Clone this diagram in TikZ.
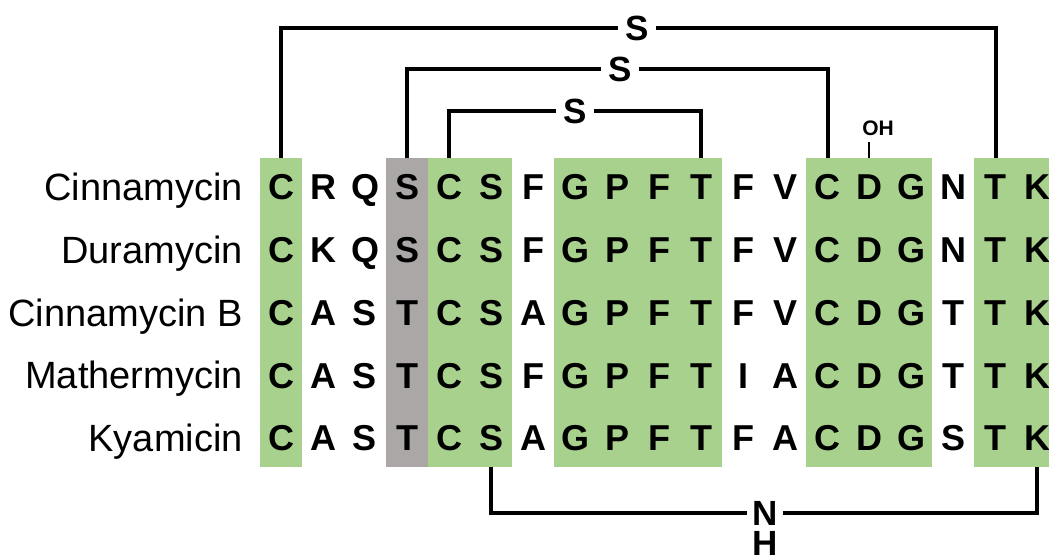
\documentclass[tikz,border=0pt]{standalone}
\usepackage{fontspec}
\setmainfont{Liberation Sans}
\definecolor{consgreen}{RGB}{168,209,141}
\definecolor{semigray}{RGB}{171,167,167}
\begin{document}
\begin{tikzpicture}[x=1pt,y=-1pt,
  residue/.style={anchor=base,inner sep=0pt,font=\fontsize{36}{36}\selectfont\bfseries},
  peptide/.style={anchor=base east,inner sep=0pt,font=\fontsize{38}{38}\selectfont},
  bridge/.style={fill=white,inner xsep=7pt,inner ysep=1pt,font=\fontsize{35}{35}\selectfont\bfseries},
  bond/.style={draw=black,line width=4.6pt,line join=miter},
  thinbond/.style={draw=black,line width=2.2pt},
  band/.style={fill=consgreen},
  semiband/.style={fill=semigray}]
\path[use as bounding box] (0,0) rectangle (1049,559);

% conserved (green) and semi-conserved (gray) columns
\fill[band] (260,158) rectangle (302,467);
\fill[semiband] (386,158) rectangle (428,467);
\fill[band] (428,158) rectangle (512,467);
\fill[band] (554,158) rectangle (722,467);
\fill[band] (806,158) rectangle (932,467);
\fill[band] (974,158) rectangle (1049,467);

% peptide names and sequences
\foreach \name/\seq [count=\r from 0] in {
  Cinnamycin/{C,R,Q,S,C,S,F,G,P,F,T,F,V,C,D,G,N,T,K},
  Duramycin/{C,K,Q,S,C,S,F,G,P,F,T,F,V,C,D,G,N,T,K},
  Cinnamycin B/{C,A,S,T,C,S,A,G,P,F,T,F,V,C,D,G,T,T,K},
  Mathermycin/{C,A,S,T,C,S,F,G,P,F,T,I,A,C,D,G,T,T,K},
  Kyamicin/{C,A,S,T,C,S,A,G,P,F,T,F,A,C,D,G,S,T,K}} {
  \node[peptide] (lab\r) at (243,{187+62.75*\r+13.6}) {\name};
  \foreach \aa [count=\c from 0] in \seq {
    \node[residue] (res\r-\c) at ({281+42*\c},{187+62.75*\r+12.9}) {\aa};
  }
}

% attachment points on the column tops and bottoms
\coordinate (top0) at (281,158);
\coordinate (top3) at (407,158);
\coordinate (top4) at (449,158);
\coordinate (top10) at (701,158);
\coordinate (top13) at (828,158);
\coordinate (top14) at (869,158);
\coordinate (top17) at (996,158);
\coordinate (bot5) at (491,467);
\coordinate (bot18) at (1037,467);
\coordinate (ohfoot) at (869,142);

% thioether bridges
\node[bridge] (s1) at (637,28) {S};
\node[bridge] (s2) at (620,69) {S};
\node[bridge] (s3) at (575,111) {S};
\draw[bond] (top0) |- (s1.west);
\draw[bond] (s1.east) -| (top17);
\draw[bond] (top3) |- (s2.west);
\draw[bond] (s2.east) -| (top13);
\draw[bond] (top4) |- (s3.west);
\draw[bond] (s3.east) -| (top10);

% hydroxylated aspartate
\node[inner sep=0pt,font=\fontsize{21}{21}\selectfont\bfseries] (oh) at (878,128) {OH};
\draw[thinbond] (top14) -- (ohfoot);

% lysinoalanine bridge
\node[bridge,inner xsep=5pt] (nh) at (765,513) {N};
\node[inner sep=0pt,font=\fontsize{35}{35}\selectfont\bfseries] (hh) at (765,543) {H};
\draw[bond] (bot5) |- (nh.west);
\draw[bond] (nh.east) -| (bot18);
\end{tikzpicture}
\end{document}
